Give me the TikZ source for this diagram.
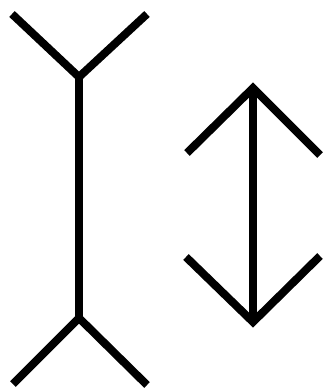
\documentclass[tikz,border=0pt]{standalone}
\usepackage{tikz}
\usetikzlibrary{calc}
\tikzset{
  traco/.style={draw=black, line width=8pt, line join=miter, line cap=butt},
}
\begin{document}
\begin{tikzpicture}[x=1pt, y=-1pt]

% Moldura
\useasboundingbox[fill=white] (0,0) rectangle (323,392);

% Figura esquerda (aletas para fora)
\coordinate (esqTopo) at (79,77);
\coordinate (esqBase) at (79,318);
\draw[traco] (12,14) -- (esqTopo) -- (147,14);
\draw[traco] (esqTopo) -- (esqBase);
\draw[traco] (13,384) -- (esqBase) -- (147,385);

% Figura direita (aletas para dentro)
\coordinate (dirTopo) at (253,88);
\coordinate (dirBase) at (253,322);
\draw[traco] (187,153) -- (dirTopo) -- (320,155);
\draw[traco] (dirTopo) -- (dirBase);
\draw[traco] (186,257) -- (dirBase) -- (320,256);

\end{tikzpicture}
\end{document}
